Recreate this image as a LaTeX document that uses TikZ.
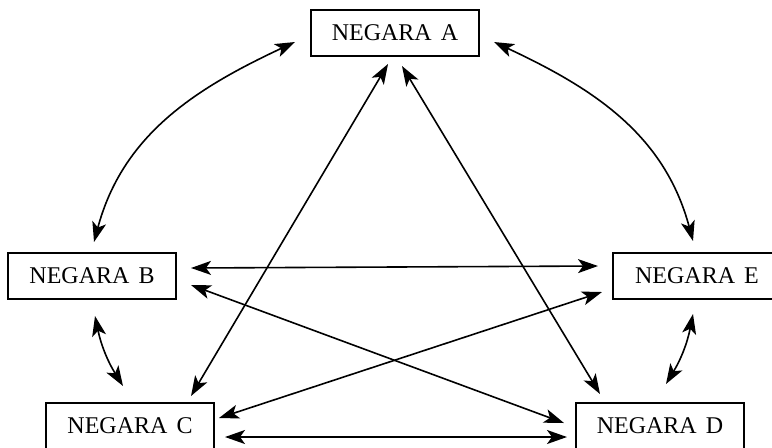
\documentclass[tikz,border=0pt]{standalone}
\usepackage{fontspec}
\setmainfont{Liberation Serif}
\usetikzlibrary{positioning, calc, arrows.meta}
\tikzset{>={Stealth[length=10pt, width=7pt, inset=2.5pt]}}
\newcommand{\negarafont}{\fontsize{12}{14}\selectfont\spaceskip=0.38em plus 0pt\relax}

\begin{document}
\begin{tikzpicture}
    [x=0.5pt, y=-0.5pt, on grid, line width=0.8pt,
     my box/.style={draw, line width=1pt, fill=white, inner sep=0pt,
       minimum width=84pt, minimum height=23pt, font=\negarafont}]
    \useasboundingbox (0,0) rectangle (772,447);
    \node[my box] (a) at (395,33) {NEGARA A};
    \node[my box, below left=121.5pt and 151.5pt of a] (b) {NEGARA B};
    \node[my box, right=302.5pt of b] (e) {NEGARA E};
    \node[my box, below right=75pt and 19pt of b] (c) {NEGARA C};
    \node[my box, right=265pt of c] (d) {NEGARA D};

    % outer ring
    \draw [<->] ($(a.west)+(-15,9)$) to[out=205, in=75] ($(b.north)+(2,-10)$);
    \draw [<->] ($(a.east)+(14,9)$) to[out=-25, in=105] ($(e.north)+(-4,-11)$);
    \draw [<->] ($(b.south)+(3,16)$) to[bend right=10] ($(c.north)+(-7,-16)$);
    \draw [<->] ($(e.south)+(-4,14)$) to[bend left=10] ($(d.north)+(6,-18)$);
    \draw [<->] ($(c.east)+(10,11)$) to ($(d.west)+(-8,11)$);

    % inner star
    \draw [<->] ($(a.south)+(-7,7)$) to ($(c.north)+(61,-6)$);
    \draw [<->] ($(a.south)+(7,9)$) to ($(d.north)+(-60,-8)$);
    \draw [<->] ($(b.east)+(14,-8)$) to ($(e.west)+(-14,-10)$);
    \draw [<->] ($(b.east)+(14,9)$) to ($(d.west)+(-11,-3)$);
    \draw [<->] ($(c.east)+(4,-8)$) to ($(e.west)+(-10,16)$);
\end{tikzpicture}
\end{document}
